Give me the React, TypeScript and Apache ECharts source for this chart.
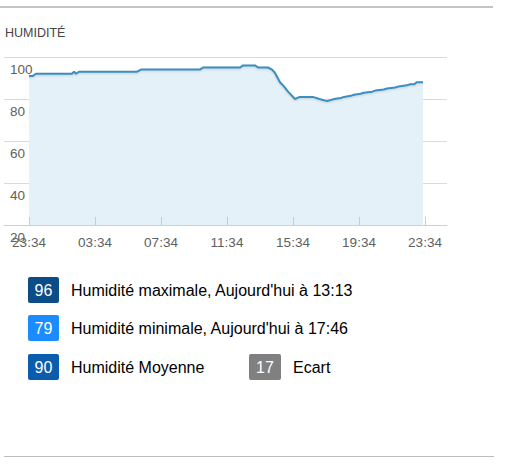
import React, { useEffect, useRef } from "react";
import * as echarts from "echarts";

const hours = [0, 0.24, 0.42, 2.6, 2.73, 2.85, 3.03, 6.55, 6.79, 10.36, 10.55, 12.8, 12.97, 13.7, 13.88, 14.48, 14.73, 14.9, 15.21, 15.45, 15.7, 16.12, 16.42, 17.2, 17.6, 18.06, 18.5, 18.9, 19.1, 19.5, 19.7, 20.1, 20.3, 20.8, 21.0, 21.5, 21.7, 22.2, 22.4, 22.9, 23.1, 23.35, 23.5, 23.88];
const humidity = [91, 91, 92, 92, 93, 92, 93, 93, 94, 94, 95, 95, 96, 96, 95, 95, 94, 92.5, 88, 86, 83.5, 80, 81, 81, 80, 79, 80, 80.5, 81, 81.5, 82, 82.5, 83, 83.5, 84, 84.5, 85, 85.5, 86, 86.5, 87, 87, 88, 88];
const tickHours = [0, 4, 8, 12, 16, 20, 24];
const tickLabels = ["23:34", "03:34", "07:34", "11:34", "15:34", "19:34", "23:34"];
const yTicks = [20, 40, 60, 80, 100];

const statMax = 96;
const statMin = 79;
const statAvg = 90;
const statRange = 17;
const labelMax = "Humidité maximale, Aujourd'hui à 13:13";
const labelMin = "Humidité minimale, Aujourd'hui à 17:46";
const labelAvg = "Humidité Moyenne";
const labelRange = "Ecart";
const title = "HUMIDITÉ";

const FONT = "'Liberation Sans', Arial, sans-serif";

function badge(x: number, y: number, w: number, color: string, value: number, label: string) {
  return [
    { type: "rect", shape: { x, y, width: w, height: 26, r: 2 }, style: { fill: color } },
    {
      type: "text",
      x: x + w / 2,
      y: y + 13,
      style: { text: String(value), fill: "#fff", font: `16px ${FONT}`, align: "center", verticalAlign: "middle" },
    },
    {
      type: "text",
      x: x + w + 12,
      y: y + 13,
      style: { text: label, fill: "#000", font: `16px ${FONT}`, align: "left", verticalAlign: "middle" },
    },
  ];
}

export default function App() {
  const ref = useRef<HTMLDivElement>(null);
  useEffect(() => {
    if (!ref.current) return;
    const chart = echarts.init(ref.current, null, { renderer: "svg" });
    const data = hours.map((h, i) => [h, humidity[i]]);
    chart.setOption({
      animation: false,
      backgroundColor: "#fff",
      grid: { left: 4, right: 60, top: 57, bottom: 242, containLabel: false },
      xAxis: {
        type: "value",
        z: 5,
        min: -25 / 16.5,
        max: (447 - 29) / 16.5,
        splitLine: { show: false },
        axisLine: { show: true, lineStyle: { color: "#d0d0d0", width: 1 } },
        axisTick: { show: true, inside: true, length: 8, customValues: tickHours, lineStyle: { color: "#c0ccd8" } },
        axisLabel: {
          customValues: tickHours,
          formatter: (v: number) => tickLabels[tickHours.indexOf(v)] ?? "",
          color: "#606060",
          fontFamily: FONT,
          fontSize: 13.5,
          margin: 10,
        },
      },
      yAxis: {
        type: "value",
        min: 20,
        max: 100,
        interval: 20,
        axisLine: { show: false },
        axisTick: { show: false },
        splitLine: { lineStyle: { color: "#dadada" } },
        axisLabel: {
          inside: true,
          margin: 6,
          color: "#606060",
          fontFamily: FONT,
          fontSize: 13.5,
          verticalAlign: "top",
          padding: [5, 0, 0, 0],
          showMinLabel: true,
          showMaxLabel: true,
          formatter: (v: number) => (yTicks.includes(v) ? String(v) : ""),
        },
      },
      series: [
        {
          type: "line",
          data,
          showSymbol: false,
          symbol: "none",
          lineStyle: { color: "#3a8ec0", width: 2, shadowColor: "rgba(0,0,0,0.15)", shadowBlur: 2, shadowOffsetY: 1 },
          areaStyle: { color: "#e5f1f9", opacity: 1 },
          z: 1,
        },
      ],
      graphic: [
        { type: "rect", shape: { x: 0, y: 6, width: 493, height: 2 }, style: { fill: "#c4c4c4" } },
        { type: "rect", shape: { x: 4, y: 456, width: 490, height: 1 }, style: { fill: "#bdbdbd" } },
        {
          type: "text",
          x: 5,
          y: 33,
          style: { text: title, fill: "#444", font: `12.5px ${FONT}`, align: "left", verticalAlign: "middle" },
        },
        ...badge(28, 277, 31, "#0c4d87", statMax, labelMax),
        ...badge(28, 315, 31, "#1a8cff", statMin, labelMin),
        ...badge(28, 354, 31, "#0b5cad", statAvg, labelAvg),
        ...badge(249, 354, 32, "#808080", statRange, labelRange),
      ],
    });
    return () => chart.dispose();
  }, []);
  return (
    <div style={{ position: "absolute", left: 0, top: 0 }}>
      <div ref={ref} style={{ width: 507, height: 467 }} />
    </div>
  );
}
